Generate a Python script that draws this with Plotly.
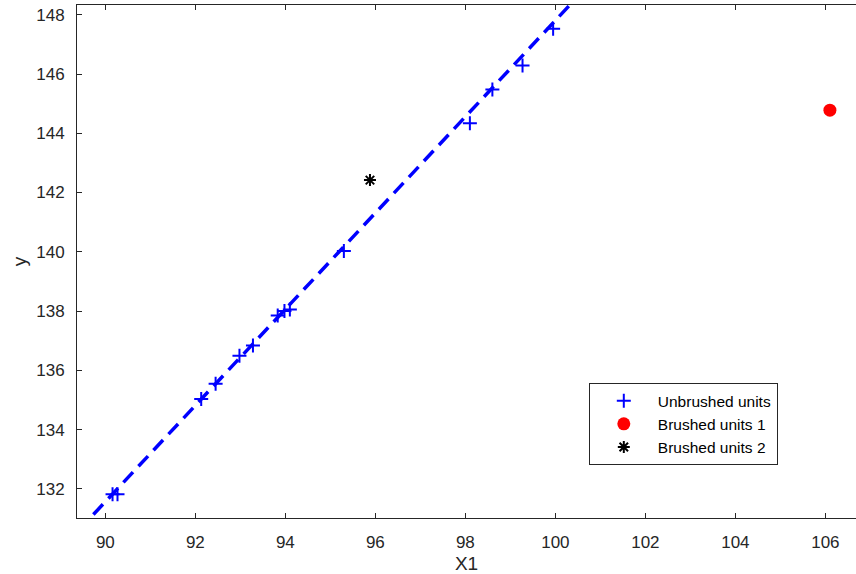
import plotly.graph_objects as go

# Data
unbrushed_x = [90.16, 90.27, 92.13, 92.45, 92.98, 93.28, 93.83, 93.98, 94.10,
               95.30, 98.10, 98.60, 99.27, 99.95]
unbrushed_y = [131.82, 131.82, 135.03, 135.55, 136.49, 136.84, 137.85, 138.00, 138.05,
               140.03, 144.34, 145.48, 146.29, 147.53]
brushed1_x = [106.10]
brushed1_y = [144.78]
brushed2_x = [95.88]
brushed2_y = [142.42]
fit_x = [89.40, 100.50]
fit_y = [130.59, 148.62]

x_ticks = [90, 92, 94, 96, 98, 100, 102, 104, 106]
y_ticks = [132, 134, 136, 138, 140, 142, 144, 146, 148]

FONT = "Liberation Sans, Arial, Helvetica, sans-serif"
AX = "#262626"

fig = go.Figure()
fig.add_trace(go.Scatter(x=fit_x, y=fit_y, mode="lines",
                         line=dict(color="#0000ff", width=3.5, dash="14px,8px"),
                         showlegend=False, hoverinfo="skip"))
fig.add_trace(go.Scatter(x=unbrushed_x, y=unbrushed_y, mode="markers", name="Unbrushed units",
                         marker=dict(symbol="cross-thin", size=10, color="#0000ff",
                                     line=dict(color="#0000ff", width=2))))
fig.add_trace(go.Scatter(x=brushed1_x, y=brushed1_y, mode="markers", name="Brushed units 1",
                         marker=dict(symbol="circle", size=13, color="#ff0000",
                                     line=dict(width=0))))
fig.add_trace(go.Scatter(x=brushed2_x, y=brushed2_y, mode="markers", name="Brushed units 2",
                         marker=dict(symbol="asterisk-open", size=10, color="#000000",
                                     line=dict(color="#000000", width=2))))

fig.update_layout(
    width=856, height=574,
    margin=dict(l=77, r=0, t=5, b=56),
    paper_bgcolor="white", plot_bgcolor="white",
    font=dict(family=FONT, size=17, color=AX),
    legend=dict(x=0.657, y=0.263, xanchor="left", yanchor="top",
                bgcolor="white", bordercolor=AX, borderwidth=1,
                font=dict(family=FONT, size=15.5, color="#000000"),
                itemwidth=58, tracegroupgap=0, entrywidth=160, entrywidthmode="pixels"),
)
fig.update_xaxes(range=[89.37, 106.68], tickvals=x_ticks, ticks="inside", ticklen=5,
                 tickcolor=AX, showline=True, linecolor=AX, linewidth=1, mirror="ticks",
                 showgrid=False, zeroline=False, ticklabelstandoff=9,
                 title=dict(text="X1", font=dict(family=FONT, size=19, color=AX), standoff=8),
                 tickfont=dict(family=FONT, size=17, color=AX))
fig.update_yaxes(range=[131.015, 148.33], tickvals=y_ticks, ticks="inside", ticklen=5,
                 tickcolor=AX, showline=True, linecolor=AX, linewidth=1, mirror=False,
                 showgrid=False, zeroline=False, ticklabelstandoff=8,
                 title=dict(text="y", font=dict(family=FONT, size=19, color=AX), standoff=4),
                 tickfont=dict(family=FONT, size=17, color=AX))

fig.write_html("out.html")
